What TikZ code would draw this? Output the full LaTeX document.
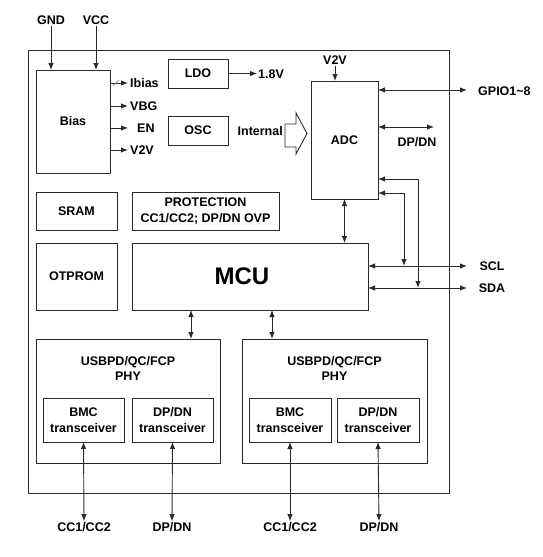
\documentclass[tikz,border=0pt]{standalone}
\usepackage{fontspec}
\setmainfont{Liberation Sans}
\usepackage{tikz}
\usetikzlibrary{arrows.meta,positioning}
\definecolor{dark}{HTML}{2A2A2A}

\begin{document}
\begin{tikzpicture}[x=1pt,y=-1pt]
    %styles
    \tikzstyle{block}=[rectangle,draw=dark,line width=1pt,inner sep=0pt,outer sep=0pt,align=center,font=\fontsize{12.5}{15.5}\selectfont\bfseries]
    \tikzstyle{lbl}=[inner sep=1pt,align=center,font=\fontsize{12.5}{15.5}\selectfont\bfseries]
    \tikzstyle{sig}=[-{Latex[length=7pt,width=5.5pt]},draw=dark,line width=0.9pt]
    \tikzstyle{bus}=[{Latex[length=7pt,width=5.5pt]}-{Latex[length=7pt,width=5.5pt]},draw=dark,line width=0.9pt]
    \useasboundingbox (0,0) rectangle (543,557);
    %nodes
    \node[block,minimum width=421pt,minimum height=443pt] (chip) at (238.5,271.5) {};
    \node[block,minimum width=74pt,minimum height=103pt] (bias) at (73,121.5) {Bias};
    \node[block,minimum width=60pt,minimum height=29pt] (ldo) at (198,73.5) {LDO};
    \node[block,minimum width=60pt,minimum height=29pt] (osc) at (198,130.5) {OSC};
    \node[block,minimum width=67pt,minimum height=118pt] (adc) at (344.5,140) {ADC};
    \node[block,minimum width=81pt,minimum height=38pt] (sram) at (76.5,211) {SRAM};
    \node[block,minimum width=147pt,minimum height=38pt] (prot) at (205.5,211) {PROTECTION\\CC1/CC2; DP/DN OVP};
    \node[block,minimum width=81pt,minimum height=67pt] (otp) at (76.5,276.5) {OTPROM};
    \node[block,minimum width=236pt,minimum height=67pt,font=\fontsize{24}{28}\selectfont\bfseries] (mcu) at (250,276.5) {MCU\hspace*{16pt}};
    \node[block,minimum width=184pt,minimum height=124pt] (phya) at (128,401) {};
    \node[block,minimum width=185pt,minimum height=124pt] (phyb) at (334.5,401) {};
    \node[lbl] (phyat) at (128,368.5) {USBPD/QC/FCP\\PHY};
    \node[lbl] (phybt) at (334.5,368.5) {USBPD/QC/FCP\\PHY};
    \node[block,minimum width=81pt,minimum height=44pt] (bmca) at (83.5,420) {BMC\\transceiver};
    \node[block,minimum width=81pt,minimum height=44pt] (dptra) at (172.5,420) {DP/DN\\transceiver};
    \node[block,minimum width=82pt,minimum height=44pt] (bmcb) at (290,420) {BMC\\transceiver};
    \node[block,minimum width=82pt,minimum height=44pt] (dptrb) at (378,420) {DP/DN\\transceiver};

    \node[lbl] (gnd) at (51,20) {GND};
    \node[lbl] (vcc) at (96,20) {VCC};
    \node[lbl,anchor=west] (ibias) at (129,83) {Ibias};
    \node[lbl,anchor=west] (vbg) at (129,106) {VBG};
    \node[lbl,anchor=west] (en) at (136,128) {EN};
    \node[lbl,anchor=west] (v2v) at (129,150) {V2V};
    \node[lbl,anchor=west] (v18) at (257,74) {1.8V};
    \node[lbl,anchor=east] (intl) at (284,131) {Internal};
    \node[lbl] (v2va) at (335,60) {V2V};
    \node[lbl,anchor=west] (gpio) at (477,91) {GPIO1\textasciitilde8};
    \node[lbl] (dpadc) at (417,142) {DP/DN};
    \node[lbl] (scl) at (492,266) {SCL};
    \node[lbl] (sda) at (492,288) {SDA};
    \node[lbl] (cca) at (84,527) {CC1/CC2};
    \node[lbl] (dpna) at (172,527) {DP/DN};
    \node[lbl] (ccb) at (290,527) {CC1/CC2};
    \node[lbl] (dpnb) at (379,527) {DP/DN};

    \coordinate (tip) at (128,0);
    \coordinate (gpioend) at (467,90);
    \coordinate (dpend) at (434,127);
    \coordinate (sclend) at (467,266);
    \coordinate (sdaend) at (467,288);
    \coordinate (tapa) at (404,193);
    \coordinate (tapb) at (418,179);
    \coordinate (busa) at (191,0);
    \coordinate (busb) at (272,0);

    %arrows
    \draw[sig] (gnd.south) -- (gnd.south |- bias.north);
    \draw[sig] (vcc.south) -- (vcc.south |- bias.north);
    \draw[sig] (bias.east |- ibias) -- (tip |- ibias);
    \draw[sig] (bias.east |- vbg) -- (tip |- vbg);
    \draw[sig] (bias.east |- en) -- (tip |- en);
    \draw[sig] (bias.east |- v2v) -- (tip |- v2v);
    \draw[gray,line width=0.6pt] (113,86) -- (119,80);
    \draw[sig] (ldo.east) -- (ldo.east -| v18.west);
    \draw[dark,line width=0.9pt,fill=white] (285,124) -- (296,124) -- (296,113) -- (307,133.5) -- (296,154) -- (296,147) -- (285,147) -- cycle;
    \draw[sig] (v2va.south) -- (v2va.south |- adc.north);
    \draw[bus] (adc.east |- gpioend) -- (gpioend);
    \draw[bus] (adc.east |- dpend) -- (dpend);
    \draw[bus] (adc.east |- tapb) -- (tapb) -- (tapb |- sdaend);
    \draw[bus] (adc.east |- tapa) -- (tapa) -- (tapa |- sclend);
    \draw[bus] (adc.south) -- (adc.south |- mcu.north);
    \draw[bus] (mcu.east |- sclend) -- (sclend);
    \draw[bus] (mcu.east |- sdaend) -- (sdaend);
    \draw[bus] (busa |- mcu.south) -- (busa |- phya.north);
    \draw[bus] (busb |- mcu.south) -- (busb |- phyb.north);
    \draw[bus] (bmca.south) -- (cca.north);
    \draw[bus] (dptra.south) -- (dpna.north);
    \draw[bus] (bmcb.south) -- (ccb.north);
    \draw[bus] (dptrb.south) -- (dpnb.north);
\end{tikzpicture}
\end{document}
